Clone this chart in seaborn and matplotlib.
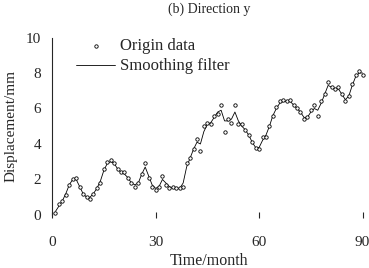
import pandas as pd
import matplotlib
matplotlib.use('Agg')
import matplotlib.pyplot as plt
import seaborn as sns

# monthly displacement, direction y
months = list(range(1, 91))
origin = [0.1, 0.6, 0.8, 1.1, 1.7, 2.0, 2.1, 1.6, 1.2, 1.0,
          0.9, 1.2, 1.5, 1.8, 2.6, 3.0, 3.1, 2.9, 2.6, 2.4,
          2.4, 2.1, 1.8, 1.6, 1.8, 2.3, 2.9, 2.1, 1.6, 1.4,
          1.6, 2.2, 1.7, 1.5, 1.6, 1.5, 1.5, 1.6, 2.9, 3.2,
          3.7, 4.3, 3.6, 5.0, 5.2, 5.1, 5.6, 5.7, 6.2, 4.7,
          5.4, 5.2, 6.2, 5.1, 5.1, 4.8, 4.5, 4.1, 3.8, 3.7,
          4.4, 4.4, 5.0, 5.6, 6.1, 6.4, 6.5, 6.4, 6.5, 6.2,
          6.0, 5.8, 5.4, 5.5, 5.9, 6.2, 5.6, 6.4, 6.8, 7.5,
          7.2, 7.1, 7.2, 6.8, 6.4, 6.7, 7.4, 7.9, 8.1, 7.9]
smooth = [0.2, 0.5, 0.8, 1.2, 1.7, 2.0, 2.0, 1.6, 1.2, 1.0,
          1.0, 1.2, 1.5, 1.9, 2.5, 2.9, 3.0, 2.9, 2.6, 2.4,
          2.3, 2.1, 1.8, 1.7, 1.8, 2.3, 2.7, 2.2, 1.7, 1.5,
          1.6, 2.0, 1.8, 1.6, 1.5, 1.5, 1.5, 1.8, 2.7, 3.2,
          3.7, 4.1, 4.0, 4.7, 5.1, 5.2, 5.5, 5.8, 5.9, 5.3,
          5.3, 5.4, 5.8, 5.3, 5.0, 4.8, 4.5, 4.1, 3.8, 3.8,
          4.2, 4.5, 5.0, 5.6, 6.0, 6.3, 6.4, 6.4, 6.4, 6.2,
          6.0, 5.8, 5.5, 5.5, 5.8, 6.0, 5.9, 6.3, 6.8, 7.3,
          7.2, 7.1, 7.1, 6.8, 6.5, 6.7, 7.3, 7.8, 8.0, 8.0]
xticks = [0, 30, 60, 90]
yticks = [0, 2, 4, 6, 8, 10]

df = pd.DataFrame({'month': months, 'origin': origin, 'smooth': smooth})

sns.set_style('ticks')
plt.rcParams['font.family'] = ['Liberation Serif', 'DejaVu Serif']
plt.rcParams['font.size'] = 11

fig = plt.figure(figsize=(3.69, 2.68), dpi=100)
ax = fig.add_axes([0.141, 0.198, 0.851, 0.662])

sns.scatterplot(x='month', y='origin', data=df, ax=ax, marker='o', s=6,
                facecolor='white', edgecolor='black', linewidth=0.6,
                label='Origin data', zorder=3)
sns.lineplot(x='month', y='smooth', data=df, ax=ax, color='black',
             linewidth=0.6, label='Smoothing filter')

ax.set_xlim(0, 91)
ax.set_ylim(0, 10)
ax.set_xticks(xticks)
ax.set_yticks(yticks)
ax.set_yticks([0, 4, 8], minor=True)
ax.tick_params(axis='y', which='major', length=0, pad=8, labelsize=11)
ax.tick_params(axis='y', which='minor', direction='in', length=3, width=0.8)
ax.tick_params(axis='x', direction='inout', length=5, width=0.8, pad=13, labelsize=11)

for s in ['top', 'right', 'bottom']:
    ax.spines[s].set_visible(False)
ax.spines['left'].set_linewidth(0.8)

ax.set_xlabel('Time/month', fontsize=11.5, labelpad=2.5)
ax.set_ylabel('Displacement/mm', fontsize=11, labelpad=6)
ax.set_title('(b) Direction y', fontsize=10, pad=18)

ax.legend(loc='upper left', bbox_to_anchor=(0.03, 1.08), frameon=False,
          fontsize=12, handlelength=2.3, handletextpad=0.3, labelspacing=0.25,
          markerscale=1.0)

plt.savefig('out.png', dpi=100)
